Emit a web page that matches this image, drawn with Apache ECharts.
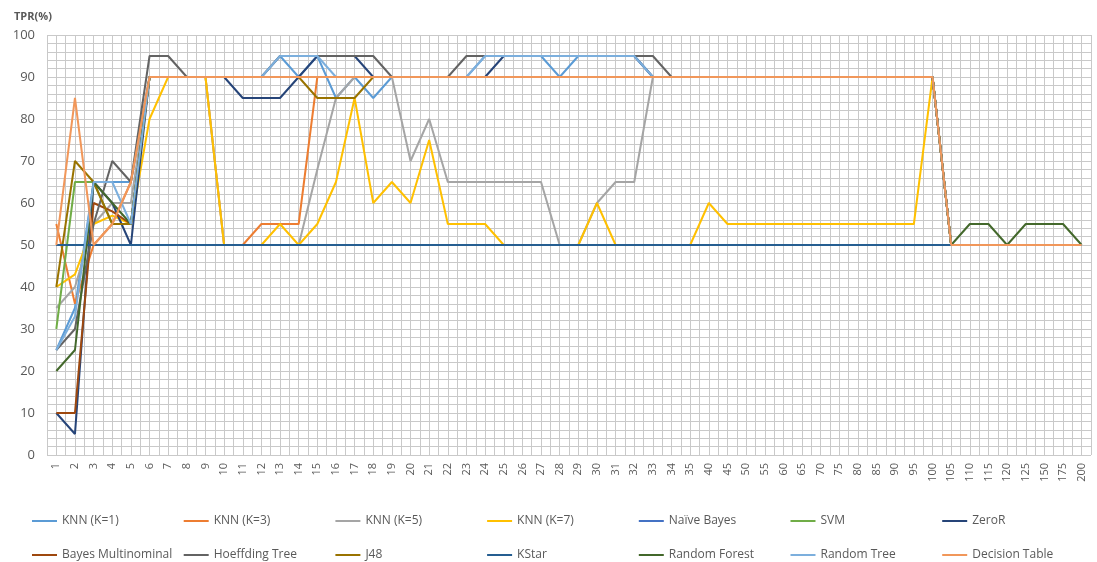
<!DOCTYPE html>
<html>
<head>
<meta charset="utf-8">
<script src="https://cdn.jsdelivr.net/npm/echarts@6/dist/echarts.min.js"></script>
<style>
  html, body { margin: 0; padding: 0; background: #fff; }
  #chart { width: 1097px; height: 562px; }
</style>
</head>
<body>
<div id="chart"></div>
<script>
// x categories (number of features)
const categories = ['1','2','3','4','5','6','7','8','9','10','11','12','13','14','15','16','17','18','19','20',
  '21','22','23','24','25','26','27','28','29','30','31','32','33','34','35','40','45','50','55','60',
  '65','70','75','80','85','90','95','100','105','110','115','120','125','150','175','200'];

const knn1 = [25,35,65,65,65,90,90,90,90,90, 90,90,95,90,95,85,90,85,90,90, 90,90,90,95,95,95,95,90,95,95, 95,95,90,90,90,
  90,90,90,90,90,90,90,90,90,90,90,90,90, 50,50,50,50,50,50,50,50];
const knn3 = [55,36,50,55,65,90,90,90,90,50, 50,55,55,55,90,90,90,90,90,90, 90,90,90,90,90,90,90,90,90,90, 90,90,90,90,90,
  90,90,90,90,90,90,90,90,90,90,90,90,90, 50,50,50,50,50,50,50,50];
const knn5 = [35,40,55,60,60,90,90,90,90,50, 50,50,50,50,68,85,90,90,90,70, 80,65,65,65,65,65,65,50,50,60, 65,65,90,90,90,
  90,90,90,90,90,90,90,90,90,90,90,90,90, 50,50,50,50,50,50,50,50];
const knn7 = [40,43,55,57,55,80,90,90,90,50, 50,50,55,50,55,65,85,60,65,60, 75,55,55,55,50,50,50,50,50,60, 50,50,50,50,50,
  60,55,55,55,55,55,55,55,55,55,55,55,90, 50,50,50,50,50,50,50,50];
const naiveBayes = [50,50,50,50,50,50,50,50,50,50, 50,50,50,50,50,50,50,50,50,50, 50,50,50,50,50,50,50,50,50,50, 50,50,50,50,50,
  50,50,50,50,50,50,50,50,50,50,50,50,50, 50,50,50,50,50,50,50,50];
const svm = [30,65,65,55,55,90,90,90,90,90, 90,90,90,90,90,90,90,90,90,90, 90,90,90,90,90,90,90,90,90,90, 90,90,90,90,90,
  90,90,90,90,90,90,90,90,90,90,90,90,90, 50,50,50,50,50,50,50,50];
const zeroR = [10,5,65,60,50,90,90,90,90,90, 85,85,85,90,95,95,95,90,90,90, 90,90,90,90,95,95,95,95,95,95, 95,95,90,90,90,
  90,90,90,90,90,90,90,90,90,90,90,90,90, 50,50,50,50,50,50,50,50];
const bayesMulti = [10,10,60,58,55,90,90,90,90,90, 90,90,90,90,90,90,90,90,90,90, 90,90,90,90,90,90,90,90,90,90, 90,90,90,90,90,
  90,90,90,90,90,90,90,90,90,90,90,90,90, 50,50,50,50,50,50,50,50];
const hoeffding = [25,30,55,70,65,95,95,90,90,90, 90,90,95,95,95,95,95,95,90,90, 90,90,95,95,95,95,95,95,95,95, 95,95,95,90,90,
  90,90,90,90,90,90,90,90,90,90,90,90,90, 50,50,50,50,50,50,50,50];
const j48 = [40,70,65,55,55,90,90,90,90,90, 90,90,90,90,85,85,85,90,90,90, 90,90,90,90,90,90,90,90,90,90, 90,90,90,90,90,
  90,90,90,90,90,90,90,90,90,90,90,90,90, 50,50,50,50,50,50,50,50];
const kstar = [50,50,50,50,50,50,50,50,50,50, 50,50,50,50,50,50,50,50,50,50, 50,50,50,50,50,50,50,50,50,50, 50,50,50,50,50,
  50,50,50,50,50,50,50,50,50,50,50,50,50, 50,50,50,50,50,50,50,50];
const randomForest = [20,25,65,60,55,90,90,90,90,90, 90,90,90,90,90,90,90,90,90,90, 90,90,90,90,90,90,90,90,90,90, 90,90,90,90,90,
  90,90,90,90,90,90,90,90,90,90,90,90,90, 50,55,55,50,55,55,55,50];
const randomTree = [25,33,65,65,55,90,90,90,90,90, 90,90,95,95,95,90,90,90,90,90, 90,90,90,95,95,95,95,95,95,95, 95,95,90,90,90,
  90,90,90,90,90,90,90,90,90,90,90,90,90, 50,50,50,50,50,50,50,50];
const decisionTable = [50,85,50,55,65,90,90,90,90,90, 90,90,90,90,90,90,90,90,90,90, 90,90,90,90,90,90,90,90,90,90, 90,90,90,90,90,
  90,90,90,90,90,90,90,90,90,90,90,90,90, 50,50,50,50,50,50,50,50];

const seriesNames = ['KNN (K=1)','KNN (K=3)','KNN (K=5)','KNN (K=7)','Naïve Bayes','SVM','ZeroR',
  'Bayes Multinominal','Hoeffding Tree','J48','KStar','Random Forest','Random Tree','Decision Table'];
const seriesData = [knn1, knn3, knn5, knn7, naiveBayes, svm, zeroR,
  bayesMulti, hoeffding, j48, kstar, randomForest, randomTree, decisionTable];
const colors = ['#5B9BD5','#ED7D31','#A5A5A5','#FFC000','#4472C4','#70AD47','#264478',
  '#9E480E','#636363','#997300','#255E91','#43682B','#7CAFDD','#F1975A'];

// half-category bands, used only for the dense vertical grid
const halfBands = [];
for (let i = 0; i < categories.length * 2; i++) halfBands.push('');

const chart = echarts.init(document.getElementById('chart'));

const legends = seriesNames.map((name, i) => ({
  data: [name],
  left: 27 + (i % 7) * 151.7,
  top: i < 7 ? 510 : 544,
  icon: 'rect',
  itemWidth: 25,
  itemHeight: 2,
  itemGap: 5,
  textStyle: { color: '#595959', fontSize: 12, fontFamily: 'Open Sans' }
}));

const option = {
  animation: false,
  backgroundColor: '#fff',
  color: colors,
  title: {
    text: 'TPR(%)',
    left: 9,
    top: 6,
    textStyle: { fontSize: 11, fontWeight: 'bold', color: '#595959', fontFamily: 'Open Sans' }
  },
  legend: legends,
  grid: { left: 47, right: 6, top: 35, bottom: 107 },
  xAxis: [
    {
      type: 'category',
      data: categories,
      boundaryGap: true,
      axisLine: { show: false },
      axisTick: { show: false },
      axisLabel: { rotate: 90, fontSize: 11, color: '#595959', margin: 8, fontFamily: 'Open Sans' },
      splitLine: { show: false }
    },
    {
      type: 'category',
      data: halfBands,
      boundaryGap: true,
      position: 'bottom',
      axisLine: { show: false },
      axisTick: { show: false },
      axisLabel: { show: false },
      splitLine: { show: true, interval: 0, lineStyle: { color: '#c9c9c9', width: 1 } }
    }
  ],
  yAxis: {
    type: 'value',
    min: 0,
    max: 100,
    interval: 10,
    axisLine: { show: false },
    axisTick: { show: false },
    axisLabel: { fontSize: 13, color: '#595959', margin: 12, fontFamily: 'Open Sans' },
    splitLine: { lineStyle: { color: '#c9c9c9', width: 1 } },
    minorTick: { show: false, splitNumber: 5 },
    minorSplitLine: { show: true, lineStyle: { color: '#c9c9c9', width: 1 } }
  },
  series: seriesNames.map((name, i) => ({
    name: name,
    type: 'line',
    xAxisIndex: 0,
    data: seriesData[i],
    symbol: 'none',
    lineStyle: { width: 2, color: colors[i] },
    itemStyle: { color: colors[i] }
  }))
};

chart.setOption(option);
</script>
</body>
</html>
